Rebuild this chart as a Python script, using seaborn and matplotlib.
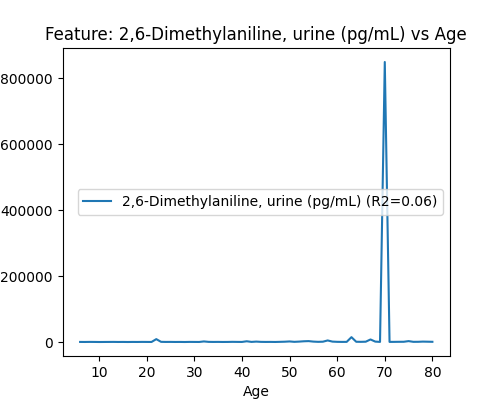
import pandas as pd
import matplotlib
matplotlib.use("Agg")
import matplotlib.pyplot as plt
import seaborn as sns

# Dados: idade x valor médio da feature
idade = list(range(6, 81))
valores = [
    500, 400, 600, 500, 300, 400, 500, 600, 400, 500,      # 6-15
    300, 500, 400, 600, 500, 400, 9000, 800, 500, 600,     # 16-25
    400, 500, 300, 600, 500, 400, 2000, 700, 500, 600,     # 26-35
    400, 500, 800, 600, 500, 2500, 600, 1500, 700, 500,    # 36-45
    600, 400, 800, 1200, 2000, 800, 1500, 2500, 3000, 1500,  # 46-55
    800, 1200, 5000, 1500, 800, 600, 700, 15000, 1000, 800,  # 56-65
    1200, 8000, 1500, 600, 850000, 600, 700, 900, 1000, 3000,  # 66-75
    800, 900, 1500, 1200, 900,                              # 76-80
]

df = pd.DataFrame({'Age': idade, 'valor': valores})
r2 = 0.06
rotulo = f'2,6-Dimethylaniline, urine (pg/mL) (R2={r2:.2f})'

plt.figure(figsize=(5, 4), dpi=100)
ax = sns.lineplot(data=df, x='Age', y='valor', label=rotulo)
plt.title('Feature: 2,6-Dimethylaniline, urine (pg/mL) vs Age')
plt.xlabel('Age')
plt.ylabel('')
plt.legend(loc='best')
plt.savefig('out.png', dpi=100)
